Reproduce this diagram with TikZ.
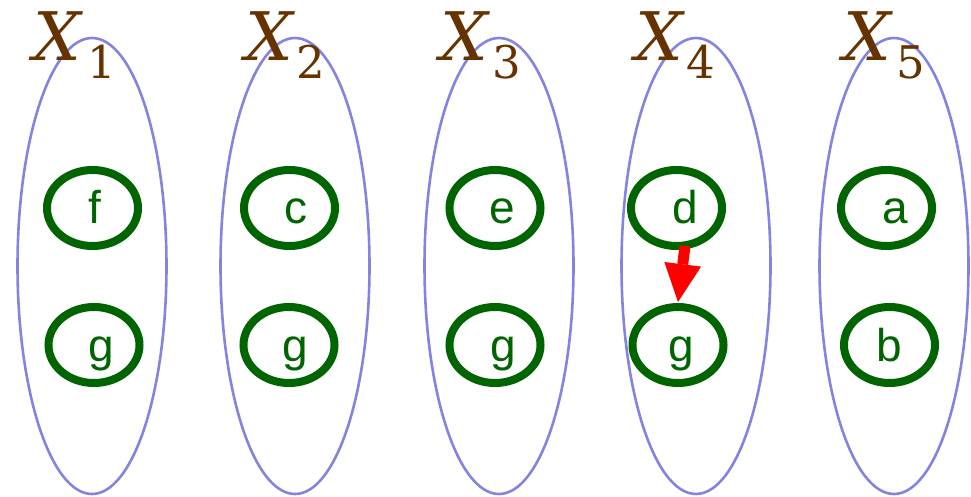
\documentclass[tikz,border=0pt]{standalone}
\usepackage{fontspec}
\setmainfont{Liberation Sans}
\newfontfamily\xfont{DejaVu Serif}
\usetikzlibrary{shapes.geometric,arrows.meta}
\definecolor{setblue}{HTML}{8484E0}
\definecolor{elgreen}{HTML}{006400}
\definecolor{xbrown}{HTML}{663300}
\tikzset{
  setell/.style={draw=setblue, line width=2.6pt},
  elem/.style={draw=elgreen, line width=8pt, ellipse, minimum width=91pt, minimum height=76pt, inner sep=0pt},
  elemtext/.style={text=elgreen, anchor=base, inner sep=0pt, font=\fontsize{46}{46}\selectfont},
  xname/.style={text=xbrown, anchor=base west, inner sep=0pt, font=\xfont\itshape\fontsize{67}{67}\selectfont},
  xsub/.style={text=xbrown, anchor=base west, inner sep=0pt, font=\xfont\fontsize{45}{45}\selectfont},
  dep/.style={draw=red, line width=11pt, -{Triangle[width=37pt,length=38pt,line width=0pt]}}
}
\begin{document}
\begin{tikzpicture}[x=1pt,y=-1pt]
\useasboundingbox (0,0) rectangle (971,497);
% set ellipses
\draw[setell] (92,266) ellipse [x radius=74.5pt, y radius=228pt];
\draw[setell] (295,266) ellipse [x radius=74.5pt, y radius=228pt];
\draw[setell] (499,266) ellipse [x radius=74.5pt, y radius=228pt];
\draw[setell] (696,266) ellipse [x radius=74.5pt, y radius=228pt];
\draw[setell] (894,266) ellipse [x radius=74.5pt, y radius=228pt];
% set names
\node[xname] (x1) at (33,61) {X};
\node[xsub] (s1) at (87,79) {1};
\node[xname] (x2) at (245,61) {X};
\node[xsub] (s2) at (296,79) {2};
\node[xname] (x3) at (440,61) {X};
\node[xsub] (s3) at (492,79) {3};
\node[xname] (x4) at (635,61) {X};
\node[xsub] (s4) at (686,79) {4};
\node[xname] (x5) at (843,61) {X};
\node[xsub] (s5) at (896,79) {5};
% elements
\node[elem] (f1) at (92.5,208) {};
\node[elem] (g1) at (94,345) {};
\node[elem] (c2) at (289.5,208) {};
\node[elem] (g2) at (289,345) {};
\node[elem] (e3) at (495,208) {};
\node[elem] (g3) at (495,345) {};
\node[elem] (d4) at (676.5,208) {};
\node[elem] (g4) at (678,345) {};
\node[elem] (a5) at (886.5,208) {};
\node[elem] (b5) at (889.5,345) {};
% element texts
\node[elemtext] (tf1) at (95,223) {f};
\node[elemtext] (tg1) at (101,361) {g};
\node[elemtext] (tc2) at (296,223) {c};
\node[elemtext] (tg2) at (295,361) {g};
\node[elemtext] (te3) at (502,223) {e};
\node[elemtext] (tg3) at (503,361) {g};
\node[elemtext] (td4) at (685,223) {d};
\node[elemtext] (tg4) at (681,361) {g};
\node[elemtext] (ta5) at (895,223) {a};
\node[elemtext] (tb5) at (889,361) {b};
% dependency
\draw[dep] ([shift={(8.5pt,4pt)}]d4.south) -- ([yshift=1pt]g4.north);
\end{tikzpicture}
\end{document}
